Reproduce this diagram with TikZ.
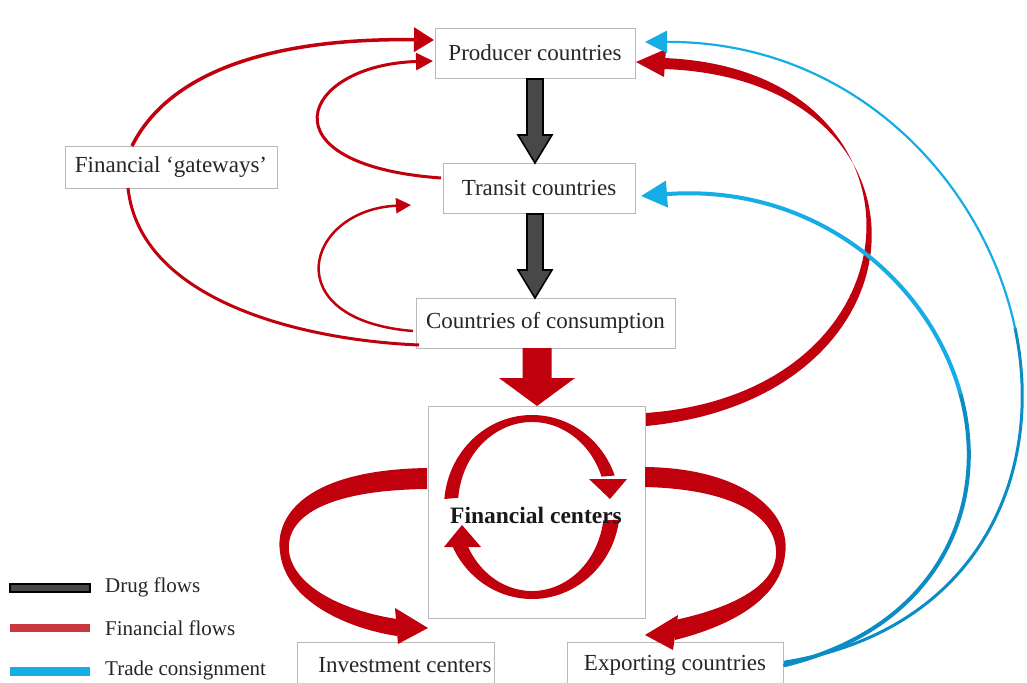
\documentclass[tikz,border=0pt]{standalone}
\usepackage{fontspec}
\setmainfont{Liberation Serif}
\usetikzlibrary{arrows.meta,calc}
\definecolor{fred}{RGB}{192,0,12}
\definecolor{lred}{RGB}{200,56,60}
\definecolor{fblue}{RGB}{22,172,230}
\definecolor{dblue}{RGB}{12,140,196}
\definecolor{dgray}{RGB}{72,72,72}
\tikzset{
  box/.style={draw=gray!55, line width=0.8pt, fill=white, inner sep=0pt,
    font=\fontsize{23}{27}\selectfont, text=black!85},
  lbl/.style={inner sep=0pt, font=\fontsize{23}{27}\selectfont, text=black!85},
  redline/.style={draw=fred, line cap=butt},
  redfill/.style={fill=fred},
  blueline/.style={draw=fblue, line cap=round},
  dblueline/.style={draw=dblue, line cap=round},
  drug/.style={draw=black, line width=1.6pt, fill=dgray, line join=miter},
  legtext/.style={anchor=west, inner sep=0pt, font=\fontsize{21}{25}\selectfont, text=black!85}
}
\begin{document}
\begin{tikzpicture}[x=1pt,y=-1pt]
\fill[white] (0,0) rectangle (1027,682);
\useasboundingbox (0,0) rectangle (1027,682);

% nodes
\node[box, minimum width=200pt, minimum height=50pt] (prod) at (535,53) {Producer countries};
\node[box, minimum width=192pt, minimum height=50pt] (trans) at (539,188) {Transit countries};
\node[box, minimum width=259pt, minimum height=50pt] (cons) at (545.5,323) {Countries of consumption};
\node[box, minimum width=217pt, minimum height=212pt] (fin) at (536.5,512) {};
\node[box, minimum width=212pt, minimum height=42pt] (gate) at (171,167) {Financial `gateways'};
\node[box, minimum width=197pt, minimum height=50pt] (inv) at (395.5,667) {};
\node[box, minimum width=216pt, minimum height=50pt] (exp) at (675,667) {};
\node[lbl] (invt) at (405,665) {Investment centers};
\node[lbl] (expt) at (675,665) {Exporting countries};

% drug flows
\coordinate (d1s) at (535,79);
\coordinate (d1t) at (535,163);
\coordinate (d2s) at (535,214);
\coordinate (d2t) at (535,298);
\draw[drug] (d1s) ++(-8,0) -- ++(0,56) -- ++(-9,0) -- (d1t) -- ++(17,-28) -- ++(-9,0) -- ++(0,-56) -- cycle;
\draw[drug] (d2s) ++(-8,0) -- ++(0,56) -- ++(-9,0) -- (d2t) -- ++(17,-28) -- ++(-9,0) -- ++(0,-56) -- cycle;

% big red arrow into financial centers
\coordinate (fa) at (537,406);
\fill[fred] (fa) -- ++(-38,-28) -- ++(23.5,0) -- ++(0,-30) -- ++(29,0) -- ++(0,30) -- ++(23.5,0) -- cycle;

% left red arcs
\coordinate (g1) at (132,146);
\coordinate (g2) at (128,188);
\coordinate (p1) at (434,40);
\coordinate (p2) at (433,61);
\coordinate (t1) at (441,178);
\coordinate (t2) at (411,205);
\coordinate (c1) at (413,331);
\coordinate (c2) at (419,345);
\draw[redline, line width=3.5pt, -{Triangle[width=24pt,length=20pt]}] (g1) .. controls (175,60) and (300,38) .. (p1);
\draw[redline, line width=3pt] (g2) .. controls (140,300) and (300,340) .. (c2);
\draw[redline, line width=3pt, -{Triangle[width=17pt,length=17pt]}] (t1) .. controls (260,165) and (300,65) .. (p2);
\draw[redline, line width=2.5pt, -{Triangle[width=15pt,length=15pt]}] (c1) .. controls (275,320) and (305,210) .. (t2);

% right red arc financial centers -> producer (tapered ribbon)
\coordinate (f1a) at (646,426);
\coordinate (f1b) at (646,413);
\coordinate (p3) at (636,62);
\fill[redfill] (f1a) .. controls (940,398) and (948,78) .. (663,69)
  -- (663,58) .. controls (941,68) and (933,392) .. (f1b) -- cycle;
\fill[redfill] (p3) -- (666,49) -- (664,77) -- cycle;

% bottom big ribbon arcs
\fill[redfill] (427,468) .. controls (300,470) and (275,520) .. (280,552)
  .. controls (285,600) and (345,628) .. (397,636)
  -- (397,619) .. controls (350,612) and (295,590) .. (289,552)
  .. controls (285,515) and (330,490) .. (427,489) -- cycle;
\coordinate (i1) at (428,628);
\fill[redfill] (i1) -- (395,608) -- (398,644) -- cycle;

\fill[redfill] (645,467) .. controls (740,468) and (792,510) .. (785,555)
  .. controls (780,600) and (730,626) .. (675,640)
  -- (675,620) .. controls (722,610) and (774,590) .. (776,555)
  .. controls (778,515) and (730,489) .. (645,487) -- cycle;
\coordinate (e1) at (645,635);
\fill[redfill] (e1) -- (678,615) -- (673,650) -- cycle;

% inner circular arrows (tapered crescents)
\fill[redfill] (532,507) ++(185:88 and 92) arc[start angle=185, end angle=340, x radius=88, y radius=92]
  -- ($(532,505)+(340:74 and 83)$) arc[start angle=340, end angle=185, x radius=74, y radius=83] -- cycle;
\fill[redfill] (589,479) -- (627,479) -- (610,499) -- cycle;
\fill[redfill] (532,507) ++(8:88 and 92) arc[start angle=8, end angle=156, x radius=88, y radius=92]
  -- ($(532,509)+(156:72 and 82)$) arc[start angle=156, end angle=8, x radius=72, y radius=82] -- cycle;
\fill[redfill] (444,547) -- (481,547) -- (462,525) -- cycle;
\node[inner sep=0pt, font=\bfseries\fontsize{23.5}{27}\selectfont, text=black!90] (fint) at (536,515) {Financial centers};

% blue arcs (lower halves darker, upper halves lighter)
\coordinate (x1) at (785,662);
\coordinate (x2) at (785,665);
\coordinate (p4) at (645,42);
\coordinate (t3) at (641,196);
\coordinate (m1) at (1015,328);
\coordinate (m2) at (960.1,392.6);
\draw[dblueline, line width=3pt] (x1) .. controls (977.5,631) and (1046.25,475.5) .. (m1);
\draw[blueline, line width=2.2pt, -{Triangle[width=22pt,length=22pt]}] (m1) .. controls (983.75,180.5) and (852.5,41) .. (p4);
\draw[dblueline, line width=4pt] (x2) .. controls (940,627.5) and (991.25,503.75) .. (m2);
\draw[blueline, line width=4pt, -{Triangle[width=26pt,length=26pt]}] (m2) .. controls (929,281.5) and (815.5,183) .. (t3);

% legend
\draw[black, line width=1.5pt, fill=dgray] (10,584) rectangle (90,592);
\fill[lred] (10,624) rectangle (90,632);
\fill[fblue] (10,667) rectangle (90,676);
\node[legtext] (l1) at (105,587) {Drug flows};
\node[legtext] (l2) at (105,628) {Financial flows};
\node[legtext] (l3) at (105,670) {Trade consignment};
\end{tikzpicture}
\end{document}
